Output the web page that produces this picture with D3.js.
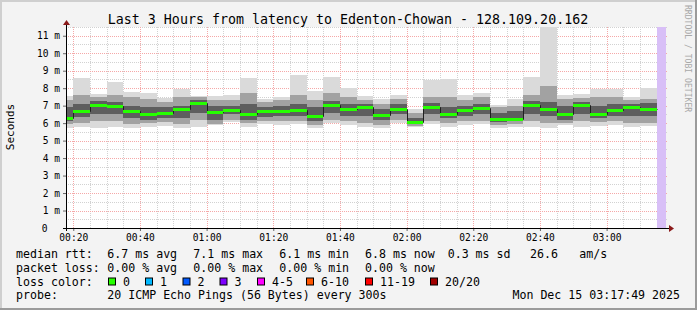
<!DOCTYPE html>
<html>
<head>
<meta charset="utf-8">
<script src="https://cdn.jsdelivr.net/npm/d3@7"></script>
<style>
  body { margin: 0; background: #f3f3f3; }
  svg { display: block; }
  text { font-family: "DejaVu Sans Mono", monospace; fill: #000; }
</style>
</head>
<body>
<div id="chart"></div>
<script>
// 5 minute bins (start time), sorted ping quantiles in ms
const binStarts = ["00:15","00:20","00:25","00:30","00:35","00:40","00:45","00:50","00:55",
  "01:00","01:05","01:10","01:15","01:20","01:25","01:30","01:35","01:40","01:45","01:50","01:55",
  "02:00","02:05","02:10","02:15","02:20","02:25","02:30","02:35","02:40","02:45","02:50","02:55",
  "03:00","03:05","03:10"];
const pingMax = [7.55,8.59,7.67,8.35,7.77,7.71,7.43,7.96,7.56,7.56,7.62,8.59,7.37,7.52,8.76,7.85,8.66,8.00,7.58,7.39,7.62,6.80,8.47,8.51,7.62,7.75,7.05,7.37,8.66,11.5,7.62,7.67,7.94,7.94,7.52,8.00];
const pingP90 = [7.30,7.60,7.50,7.60,7.50,7.40,7.20,7.50,7.50,7.35,7.30,7.70,7.20,7.30,7.60,7.30,7.70,7.50,7.35,7.10,7.40,6.60,7.50,7.50,7.30,7.50,6.90,7.00,7.60,8.10,7.40,7.45,7.50,7.50,7.30,7.40];
const pingP75 = [6.90,7.10,7.25,7.20,7.00,6.90,6.90,7.00,7.35,7.00,7.00,7.10,6.95,7.00,7.10,6.90,7.25,7.10,7.10,6.80,7.10,6.30,7.15,6.90,7.00,7.10,6.60,6.70,7.25,7.20,7.00,7.20,7.00,7.10,7.10,7.15];
const pingMedian = [6.32,6.70,7.06,6.99,6.70,6.51,6.57,6.83,7.18,6.61,6.76,6.55,6.70,6.70,6.76,6.42,7.01,6.83,6.95,6.49,6.82,6.07,6.95,6.51,6.76,6.87,6.25,6.25,7.01,6.83,6.55,7.03,6.55,6.74,6.95,6.83];
const pingP25 = [6.10,6.35,6.50,6.50,6.30,6.20,6.30,6.30,6.60,6.20,6.50,6.20,6.35,6.40,6.40,6.10,6.60,6.40,6.40,6.20,6.50,5.95,6.50,6.30,6.40,6.50,6.05,6.10,6.50,6.40,6.20,6.50,6.30,6.40,6.40,6.40];
const pingP10 = [5.95,6.00,6.10,6.10,5.95,6.00,6.05,5.95,6.20,5.95,6.20,6.00,6.10,6.10,6.10,5.90,6.20,6.10,6.00,5.90,6.20,5.85,6.10,6.00,6.10,6.10,5.90,5.95,6.10,6.00,6.00,6.10,6.05,6.10,6.00,6.00];
const pingMin = [5.75,5.80,5.70,5.80,5.70,5.80,5.85,5.75,5.80,5.90,6.05,5.80,5.95,5.90,5.95,5.70,6.00,5.90,5.80,5.70,6.00,5.80,5.95,5.80,5.90,5.95,5.70,5.80,5.80,5.75,5.90,5.80,5.85,5.90,5.80,5.85];
const pendingFrom = "03:15"; // current, not yet complete bin

const yTicks = [0,1,2,3,4,5,6,7,8,9,10,11];
const lossLabels = ["0","1","2","3","4-5","6-10","11-19","20/20"];
const lossColors = ["#26ff00","#00b8ff","#0059ff","#7e00ff","#ff00ff","#ff5500","#ff0000","#a10000"];
const rttStats = ["6.7 ms avg","7.1 ms max","6.1 ms min","6.8 ms now","0.3 ms sd","26.6","am/s"];
const lossStats = ["0.00 % avg","0.00 % max","0.00 % min","0.00 % now"];

const width = 697, height = 310;
const plot = { left: 66, right: 666, top: 27, bottom: 228 };

const endTime = new Date(2025, 11, 15, 3, 17, 49);
const startTime = new Date(endTime.getTime() - 3 * 3600 * 1000);
const parseT = s => { const [h, m] = s.split(":").map(Number); return new Date(2025, 11, 15, h, m, 0); };
const bins = binStarts.map((s, i) => {
  const t0 = parseT(s);
  return { t0, t1: new Date(t0.getTime() + 300000), max: pingMax[i], p90: pingP90[i], p75: pingP75[i],
    med: pingMedian[i], p25: pingP25[i], p10: pingP10[i], min: pingMin[i] };
});

const x = d3.scaleTime().domain([startTime, endTime]).range([plot.left, plot.right]);
const y = d3.scaleLinear().domain([0, 11.5]).range([plot.bottom, plot.top]);

const svg = d3.select("#chart").append("svg").attr("width", width).attr("height", height);

// background + 3d frame
svg.append("rect").attr("width", width).attr("height", height).attr("fill", "#f3f3f3");
svg.append("path").attr("d", `M1,${height} V1 H${width}`).attr("stroke", "#cfcfcf").attr("stroke-width", 2).attr("fill", "none");
svg.append("path").attr("d", `M0,${height - 1} H${width - 1} V0`).attr("stroke", "#9b9b9b").attr("stroke-width", 2).attr("fill", "none");

svg.append("rect").attr("x", plot.left).attr("y", plot.top)
  .attr("width", plot.right - plot.left).attr("height", plot.bottom - plot.top).attr("fill", "#fff");

svg.append("clipPath").attr("id", "clip").append("rect")
  .attr("x", plot.left).attr("y", plot.top - 1).attr("width", plot.right - plot.left).attr("height", plot.bottom - plot.top + 1);

// grid
const grid = svg.append("g");
const minorX = x.ticks(d3.timeMinute.every(5));
const majorX = x.ticks(d3.timeMinute.every(20));
const minorY = y.ticks(23).filter(v => v % 1 !== 0);
grid.selectAll(".vminor").data(minorX).join("line")
  .attr("x1", d => Math.round(x(d)) + 0.5).attr("x2", d => Math.round(x(d)) + 0.5)
  .attr("y1", plot.top).attr("y2", plot.bottom)
  .attr("stroke", "#d2d2d2").attr("stroke-dasharray", "1,1");
grid.selectAll(".hminor").data(minorY).join("line")
  .attr("y1", d => Math.round(y(d)) + 0.5).attr("y2", d => Math.round(y(d)) + 0.5)
  .attr("x1", plot.left).attr("x2", plot.right + 2)
  .attr("stroke", "#d2d2d2").attr("stroke-dasharray", "1,1");
grid.selectAll(".vmajor").data(majorX).join("line")
  .attr("x1", d => Math.round(x(d)) + 0.5).attr("x2", d => Math.round(x(d)) + 0.5)
  .attr("y1", plot.top).attr("y2", plot.bottom)
  .attr("stroke", "#f5a8a8").attr("stroke-dasharray", "1,1");
grid.selectAll(".hmajor").data(yTicks.slice(1)).join("line")
  .attr("y1", d => Math.round(y(d)) + 0.5).attr("y2", d => Math.round(y(d)) + 0.5)
  .attr("x1", plot.left).attr("x2", plot.right + 2)
  .attr("stroke", "#f5a8a8").attr("stroke-dasharray", "1,1");

// smoke
const data = svg.append("g").attr("clip-path", "url(#clip)");
const bands = [
  { lo: "min", hi: "max", color: "#dadada" },
  { lo: "p10", hi: "p90", color: "#a2a2a2" },
  { lo: "p25", hi: "p75", color: "#5e5e5e" }
];
bands.forEach(b => {
  data.selectAll(null).data(bins).join("rect")
    .attr("x", d => Math.round(x(d.t0)))
    .attr("width", d => Math.round(x(d.t1)) - Math.round(x(d.t0)))
    .attr("y", d => Math.round(y(d[b.hi])))
    .attr("height", d => Math.round(y(d[b.lo])) - Math.round(y(d[b.hi])))
    .attr("fill", b.color);
});

// pending (unknown) column
data.append("rect")
  .attr("x", Math.round(x(parseT(pendingFrom)))).attr("y", plot.top)
  .attr("width", plot.right - Math.round(x(parseT(pendingFrom)))).attr("height", plot.bottom - plot.top)
  .attr("fill", "#d8bff7");

// median: thin dark step line + loss coloured segments
const stepPts = bins.map(d => [x(d.t0), y(d.med)]).concat([[x(bins[bins.length - 1].t1), y(bins[bins.length - 1].med)]]);
data.append("path")
  .attr("d", d3.line().x(d => Math.round(d[0]) + 0.5).y(d => Math.round(d[1]) + 0.5).curve(d3.curveStepAfter)(stepPts))
  .attr("fill", "none").attr("stroke", "#202020").attr("stroke-width", 1);
data.selectAll(null).data(bins).join("line")
  .attr("x1", d => Math.round(x(d.t0))).attr("x2", d => Math.round(x(d.t1)))
  .attr("y1", d => Math.round(y(d.med)) + 0.5).attr("y2", d => Math.round(y(d.med)) + 0.5)
  .attr("stroke", lossColors[0]).attr("stroke-width", 3);

// axes
const axisColor = "#000";
const xAxis = svg.append("g").attr("transform", `translate(0,${plot.bottom})`)
  .call(d3.axisBottom(x).ticks(d3.timeMinute.every(20)).tickFormat(d3.timeFormat("%H:%M")).tickSize(3).tickPadding(3));
xAxis.select(".domain").remove();
xAxis.selectAll("text").style("font-size", "9.6px").attr("font-family", null);
xAxis.selectAll(".tick line").attr("stroke", "#666");

const yAxis = svg.append("g").attr("transform", `translate(${plot.left},0)`)
  .call(d3.axisLeft(y).tickValues(yTicks).tickFormat(d => d === 0 ? "0" : `${d} m`).tickSize(3).tickPadding(3));
yAxis.select(".domain").remove();
yAxis.selectAll("text").style("font-size", "9.6px").attr("font-family", null);
yAxis.selectAll(".tick").filter(d => d === 0).select("text").attr("x", -18.5);
yAxis.selectAll(".tick line").attr("stroke", "#666");

svg.append("line").attr("x1", plot.left - 3).attr("x2", plot.right + 4)
  .attr("y1", plot.bottom + 0.5).attr("y2", plot.bottom + 0.5).attr("stroke", axisColor);
svg.append("line").attr("x1", plot.left + 0.5).attr("x2", plot.left + 0.5)
  .attr("y1", plot.bottom + 3).attr("y2", plot.top - 4).attr("stroke", axisColor);
svg.append("path").attr("d", `M${plot.right + 3},${plot.bottom - 3} L${plot.right + 8},${plot.bottom + 0.5} L${plot.right + 3},${plot.bottom + 4} Z`).attr("fill", "#8b1a1a");
svg.append("path").attr("d", `M${plot.left - 3},${plot.top - 2} L${plot.left + 0.5},${plot.top - 7} L${plot.left + 4},${plot.top - 2} Z`).attr("fill", "#8b1a1a");

// title + labels
svg.append("text").attr("x", 348).attr("y", 24).attr("text-anchor", "middle").style("font-size", "13.3px")
  .text("Last 3 Hours from latency to Edenton-Chowan - 128.109.20.162");
svg.append("text").attr("transform", "translate(14,127) rotate(-90)").attr("text-anchor", "middle")
  .style("font-size", "11px").text("Seconds");
svg.append("text").attr("transform", "translate(684.5,5) rotate(90)").style("font-size", "8.1px")
  .style("fill", "#a8a8a8").text("RRDTOOL / TOBI OETIKER");

// legend
const leg = svg.append("g").style("font-size", "11.6px");
const rowY = [258, 271.5, 285.5, 299];
const colX = [107.3, 193.3, 279.3, 365, 447.7, 530, 579.3];
leg.append("text").attr("x", 16).attr("y", rowY[0]).text("median rtt:");
leg.selectAll(null).data(rttStats).join("text").attr("x", (d, i) => colX[i]).attr("y", rowY[0]).text(d => d);
leg.append("text").attr("x", 16).attr("y", rowY[1]).text("packet loss:");
leg.selectAll(null).data(lossStats).join("text").attr("x", (d, i) => colX[i]).attr("y", rowY[1]).text(d => d);
leg.append("text").attr("x", 16).attr("y", rowY[2]).text("loss color:");
const boxX = [108.5, 145.5, 183, 220, 257.5, 306.5, 365.5, 430.5];
const items = leg.selectAll(null).data(lossLabels).join("g").attr("transform", (d, i) => `translate(${boxX[i]},${rowY[2] - 7.5})`);
items.append("rect").attr("width", 7).attr("height", 7).attr("fill", (d, i) => lossColors[i]).attr("stroke", "#000");
items.append("text").attr("x", 14.5).attr("y", 7.5).text(d => d);
leg.append("text").attr("x", 16).attr("y", rowY[3]).text("probe:");
leg.append("text").attr("x", 107.3).attr("y", rowY[3]).text("20 ICMP Echo Pings (56 Bytes) every 300s");
leg.append("text").attr("x", 680).attr("y", rowY[3]).attr("text-anchor", "end").text(d3.timeFormat("%a %b %d %H:%M:%S %Y")(endTime));
</script>
</body>
</html>
